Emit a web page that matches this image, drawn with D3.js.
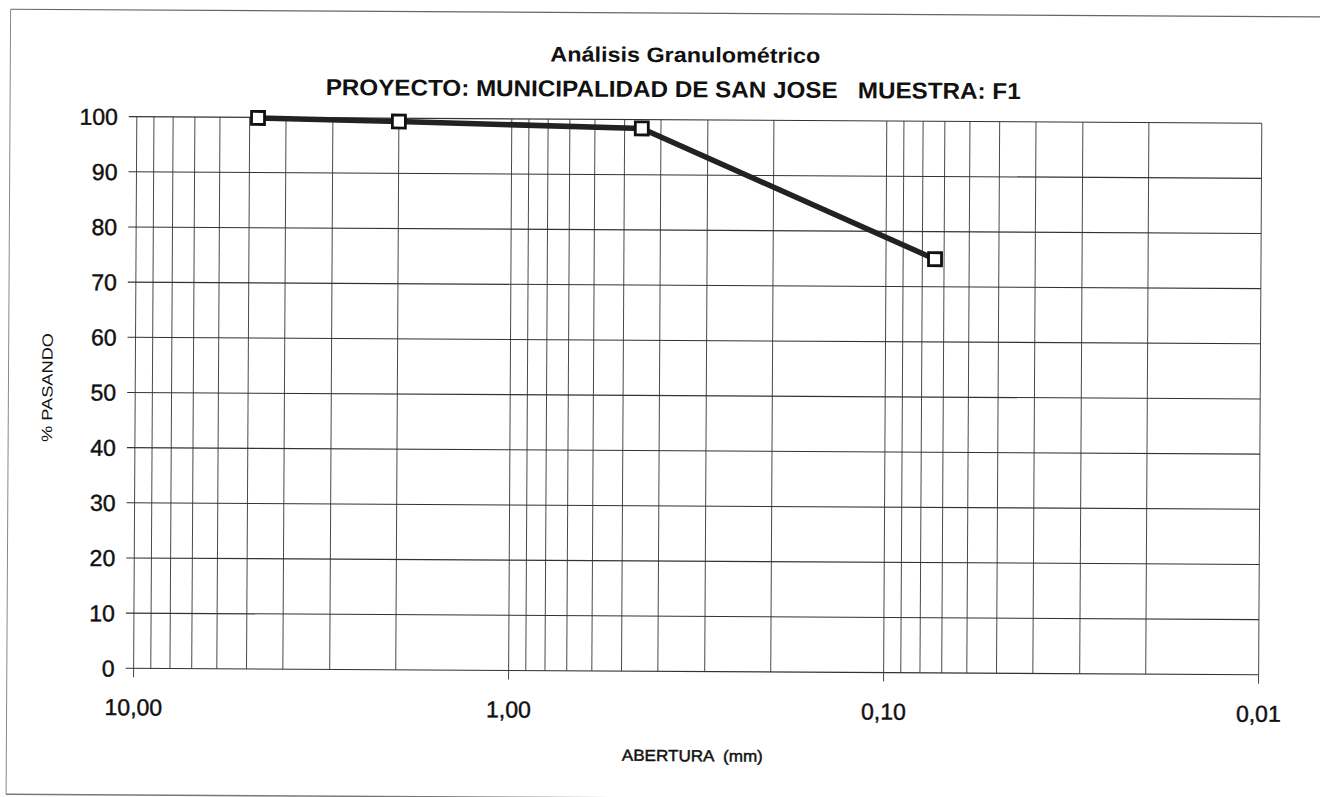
<!DOCTYPE html>
<html>
<head>
<meta charset="utf-8">
<script src="https://cdn.jsdelivr.net/npm/d3@7/dist/d3.min.js"></script>
<style>
  html, body { margin: 0; padding: 0; background: #fff; }
  svg { display: block; }
  text { font-family: "Liberation Sans", Arial, sans-serif; fill: #111; }
  .heavy { stroke: #111; stroke-width: 0.45px; }
</style>
</head>
<body>
<svg id="chart" width="1320" height="797"></svg>
<script>
// Sieve openings (mm) and percent passing
const aberturas = [4.75, 2.0, 0.45, 0.074];
const pasando = [99.9, 99.4, 98.4, 75.0];

// Axis ticks
const xMajor = [10, 1, 0.1, 0.01];
const xMajorLabels = ["10,00", "1,00", "0,10", "0,01"];
const yTicks = [0, 10, 20, 30, 40, 50, 60, 70, 80, 90, 100];

const titulo = "Análisis Granulométrico";
const subtitulo = "PROYECTO: MUNICIPALIDAD DE SAN JOSE   MUESTRA: F1";
const tituloX = "ABERTURA  (mm)";
const tituloY = "% PASANDO";

const svg = d3.select("#chart");
const plotLeft = 136.8, plotTop = 116.7, plotW = 1125, plotH = 551.6;

// the whole sheet sits very slightly tilted
const root = svg.append("g")
  .attr("transform", `rotate(0.33 ${plotLeft} ${plotTop})`);

// sheet frame
root.append("line").attr("x1", 10).attr("y1", 10).attr("x2", 1400).attr("y2", 10)
  .attr("stroke", "#666").attr("stroke-width", 1.2);
root.append("line").attr("x1", 10).attr("y1", 10).attr("x2", 10).attr("y2", 795)
  .attr("stroke", "#888").attr("stroke-width", 1);
root.append("line").attr("x1", 10).attr("y1", 795).attr("x2", 1400).attr("y2", 795)
  .attr("stroke", "#777").attr("stroke-width", 1.5);

const x = d3.scaleLog().domain([10, 0.01]).range([0, plotW]);
const y = d3.scaleLinear().domain([0, 100]).range([plotH, 0]);

const g = root.append("g").attr("transform", `translate(${plotLeft},${plotTop})`);

// vertical log grid
const xGrid = x.ticks();
g.selectAll("line.vg").data(xGrid).join("line")
  .attr("class", "vg")
  .attr("x1", d => x(d)).attr("x2", d => x(d))
  .attr("y1", 0).attr("y2", plotH)
  .attr("stroke", "#4a4a4a").attr("stroke-width", 1);

// horizontal grid
g.selectAll("line.hg").data(yTicks).join("line")
  .attr("class", "hg")
  .attr("x1", -8).attr("x2", plotW)
  .attr("y1", d => y(d)).attr("y2", d => y(d))
  .attr("stroke", "#333").attr("stroke-width", 1.1);

// decade ticks below the axis
g.selectAll("line.xt").data(xMajor).join("line")
  .attr("class", "xt")
  .attr("x1", d => x(d)).attr("x2", d => x(d))
  .attr("y1", plotH).attr("y2", plotH + 9)
  .attr("stroke", "#444").attr("stroke-width", 1);

// y tick labels
g.selectAll("text.yl").data(yTicks).join("text")
  .attr("class", "yl heavy")
  .attr("x", -19).attr("y", d => y(d))
  .attr("dy", "0.36em")
  .attr("text-anchor", "end")
  .attr("font-size", 23)
  .text(d => d);

// x tick labels
g.selectAll("text.xl").data(xMajor).join("text")
  .attr("class", "xl heavy")
  .attr("x", d => x(d)).attr("y", plotH + 47)
  .attr("text-anchor", "middle")
  .attr("font-size", 23)
  .text((d, i) => xMajorLabels[i]);

// curve
const pts = aberturas.map((a, i) => [a, pasando[i]]);
g.append("path")
  .datum(pts)
  .attr("fill", "none")
  .attr("stroke", "#222")
  .attr("stroke-width", 5.5)
  .attr("stroke-linejoin", "round")
  .attr("d", d3.line().x(d => x(d[0])).y(d => y(d[1])));

// open square markers
const s = 13;
g.selectAll("rect.pt").data(pts).join("rect")
  .attr("class", "pt")
  .attr("x", d => x(d[0]) - s / 2).attr("y", d => y(d[1]) - s / 2)
  .attr("width", s).attr("height", s)
  .attr("fill", "#fff").attr("stroke", "#111").attr("stroke-width", 2.8);

// titles
root.append("text")
  .attr("x", 685).attr("y", 59)
  .attr("text-anchor", "middle")
  .attr("font-size", 21).attr("font-weight", "bold")
  .attr("textLength", 270).attr("lengthAdjust", "spacingAndGlyphs")
  .text(titulo);

root.append("text")
  .attr("x", 673).attr("y", 94)
  .attr("text-anchor", "middle")
  .attr("font-size", 23).attr("font-weight", "bold")
  .style("white-space", "pre")
  .attr("textLength", 695).attr("lengthAdjust", "spacingAndGlyphs")
  .text(subtitulo);

root.append("text")
  .attr("class", "heavy")
  .attr("x", 696).attr("y", 758)
  .attr("text-anchor", "middle")
  .attr("font-size", 16)
  .style("white-space", "pre")
  .attr("textLength", 141).attr("lengthAdjust", "spacingAndGlyphs")
  .text(tituloX);

root.append("text")
  .attr("transform", "translate(54,388) rotate(-90)")
  .attr("text-anchor", "middle")
  .attr("font-size", 15)
  .attr("textLength", 109).attr("lengthAdjust", "spacingAndGlyphs")
  .text(tituloY);
</script>
</body>
</html>
